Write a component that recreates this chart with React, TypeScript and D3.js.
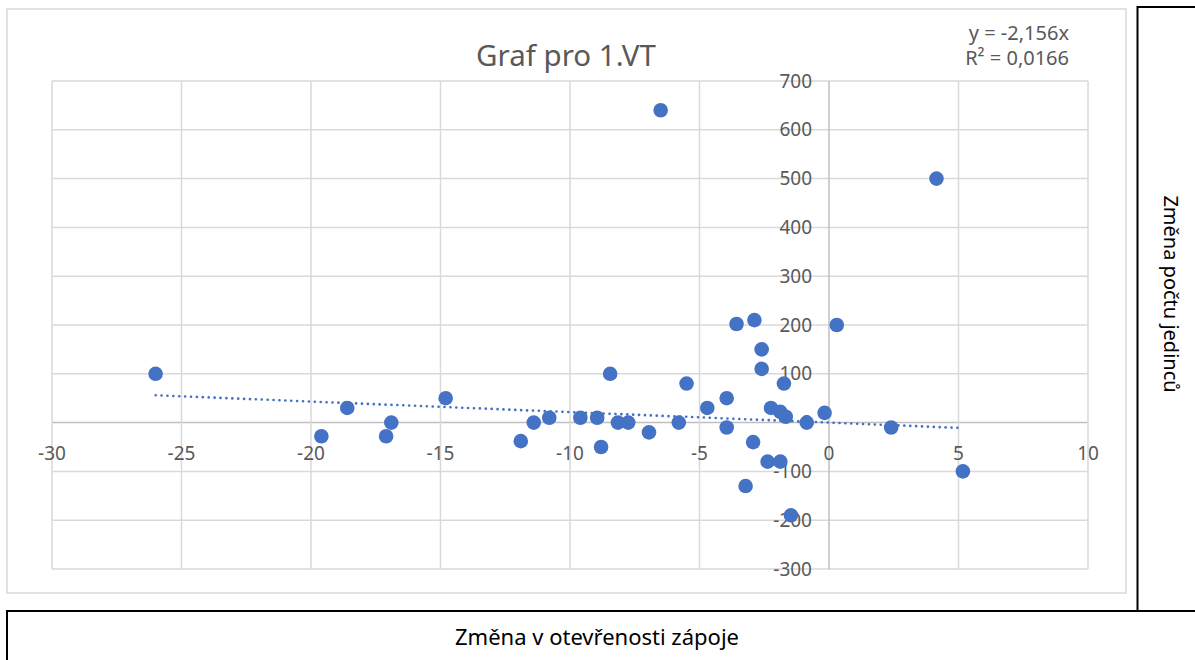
import * as d3 from "d3";

// values
const xChange = [
  -26, -19.6, -18.6, -17.1, -16.9, -14.8, -11.9, -11.4, -10.8, -9.6, -8.95,
  -8.8, -8.45, -8.15, -7.75, -6.95, -6.5, -5.8, -5.5, -4.7, -3.95, -3.95,
  -3.57, -3.22, -2.93, -2.88, -2.6, -2.6, -2.37, -2.24, -1.88, -1.88, -1.74,
  -1.67, -1.47, -0.86, -0.17, 0.3, 2.4, 4.15, 5.17,
];
const yChange = [
  100, -28, 30, -28, 0, 50, -38, 0, 10, 10, 10,
  -50, 100, 0, 0, -20, 640, 0, 80, 30, 50, -10,
  202, -130, -40, 210, 150, 110, -80, 30, 22, -80, 80,
  12, -190, 0, 20, 200, -10, 500, -100,
];
const xTicks = [-30, -25, -20, -15, -10, -5, 0, 5, 10];
const yTicks = [-300, -200, -100, 0, 100, 200, 300, 400, 500, 600, 700];
const trendSlope = -2.156;
const trendLabel = ["y = -2,156x", "R² = 0,0166"];

const title = "Graf pro 1.VT";
const xTitle = "Změna v otevřenosti zápoje";
const yTitle = "Změna počtu jedinců";

const W = 1195;
const H = 660;
const font = "'Noto Sans', 'Open Sans', sans-serif";
const grid = "#d9d9d9";
const ink = "#595959";
const blue = "#4472C4";

export default function App() {
  const x = d3.scaleLinear().domain([-30, 10]).range([52, 1088]);
  const y = d3.scaleLinear().domain([-300, 700]).range([569, 81]);

  const points = xChange.map((v, i) => ({ x: v, y: yChange[i] }));
  const [xMin, xMax] = d3.extent(xChange) as [number, number];
  const trend = d3
    .line<number>()
    .x((d) => x(d))
    .y((d) => y(trendSlope * d))([xMin, xMax]);

  return (
    <svg
      width={W}
      height={H}
      style={{ position: "fixed", left: 0, top: 0, background: "#fff" }}
      fontFamily={font}
    >
      {/* chart frame */}
      <rect x={7} y={9} width={1119} height={584} fill="#fff" stroke={grid} strokeWidth={1.5} />

      {/* gridlines */}
      {yTicks.map((t) => (
        <line key={"gy" + t} x1={x(-30)} x2={x(10)} y1={y(t)} y2={y(t)}
          stroke={t === 0 ? "#bfbfbf" : grid} strokeWidth={1.5} />
      ))}
      {xTicks.map((t) => (
        <line key={"gx" + t} x1={x(t)} x2={x(t)} y1={y(700)} y2={y(-300)}
          stroke={t === 0 ? "#bfbfbf" : grid} strokeWidth={1.5} />
      ))}

      {/* tick labels */}
      {yTicks.map((t) => (
        <text key={"ly" + t} x={x(0) - 17} y={y(t)} dy="0.35em" textAnchor="end"
          fontSize={19} fill={ink}>
          {t}
        </text>
      ))}
      {xTicks.map((t) => (
        <text key={"lx" + t} x={x(t)} y={y(0) + 37} textAnchor="middle"
          fontSize={19} fill={ink}>
          {t}
        </text>
      ))}

      {/* points */}
      {points.map((p, i) => (
        <circle key={i} cx={x(p.x)} cy={y(p.y)} r={7.3} fill={blue} />
      ))}

      {/* linear trend through origin */}
      <path d={trend ?? ""} fill="none" stroke={blue} strokeWidth={2.6}
        strokeDasharray="0.1 5.8" strokeLinecap="round" />

      {/* title and trendline label */}
      <text x={566} y={66} textAnchor="middle" fontSize={29.5} fill={ink}>
        {title}
      </text>
      {trendLabel.map((s, i) => (
        <text key={s} x={1069} y={40 + i * 25} textAnchor="end" fontSize={20} fill={ink}>
          {s}
        </text>
      ))}

      {/* axis title boxes */}
      <rect x={1137.5} y={7} width={70} height={604} fill="none" stroke="#000" strokeWidth={2} />
      <rect x={7} y={611} width={1200} height={60} fill="none" stroke="#000" strokeWidth={2} />
      <text transform="translate(1164,294) rotate(90)" textAnchor="middle" fontSize={20} fill="#000">
        {yTitle}
      </text>
      <text x={597} y={645} textAnchor="middle" fontSize={22} fill="#000">
        {xTitle}
      </text>
    </svg>
  );
}
